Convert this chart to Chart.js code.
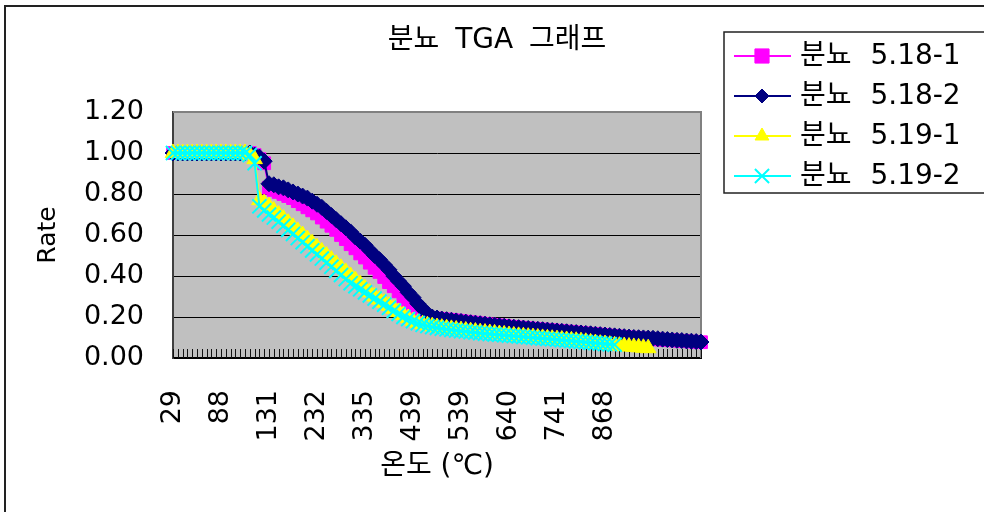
<!DOCTYPE html>
<html><head><meta charset="utf-8">
<script src="https://cdn.jsdelivr.net/npm/chart.js@4/dist/chart.umd.min.js"></script>
<style>html,body{margin:0;padding:0;background:#fff}#wrap{width:984px;height:512px;position:relative}</style>
</head><body><div id="wrap"><canvas id="c" width="984" height="512"></canvas></div>
<script>
const chartTitle = '분뇨 TGA 그래프';
const xTitle = '온도 (℃)';
const yTitle = 'Rate';
const seriesNames = ['분뇨 5.18-1', '분뇨 5.18-2', '분뇨 5.19-1', '분뇨 5.19-2'];
const tickLabels = ['29', '88', '131', '232', '335', '439', '539', '640', '741', '868'];
const yTicks = [0, 0.2, 0.4, 0.6, 0.8, 1.0, 1.2];

const s181 = [1,1,1,1,1,1,1,1,1,1,1,1,1,1,1,1,1,0.99,0.97,0.95,
  0.83,0.82,0.81,0.80,0.79,0.78,0.765,0.75,0.735,0.72,
  0.705,0.685,0.665,0.645,0.625,0.60,0.58,0.555,0.535,0.51,
  0.49,0.465,0.44,0.42,0.395,0.37,0.35,0.325,0.30,0.28,
  0.255,0.235,0.215,0.20,0.195,0.193,0.19,0.188,0.186,0.183,
  0.18,0.177,0.174,0.172,0.169,0.166,0.164,0.161,0.159,0.156,
  0.153,0.151,0.149,0.147,0.145,0.143,0.141,0.139,0.137,0.135,
  0.133,0.131,0.129,0.127,0.125,0.122,0.12,0.118,0.116,0.114,
  0.112,0.109,0.107,0.105,0.103,0.101,0.099,0.097,0.095,0.094,
  0.092,0.091,0.089,0.088,0.086,0.085,0.083,0.082,0.08,0.079,0.077];
const s182 = [1,1,1,1,1,1,1,1,1,1,1,1,1,1,1,1,1,0.99,0.98,0.96,
  0.85,0.845,0.835,0.83,0.82,0.81,0.80,0.79,0.78,0.765,
  0.75,0.735,0.715,0.695,0.675,0.655,0.635,0.615,0.59,0.57,
  0.55,0.525,0.50,0.48,0.455,0.43,0.40,0.375,0.35,0.32,
  0.295,0.265,0.24,0.215,0.20,0.195,0.19,0.187,0.184,0.181,
  0.178,0.175,0.172,0.17,0.167,0.165,0.162,0.16,0.157,0.155,
  0.152,0.15,0.148,0.146,0.144,0.142,0.14,0.138,0.136,0.134,
  0.132,0.13,0.128,0.126,0.124,0.122,0.12,0.118,0.116,0.114,
  0.112,0.11,0.108,0.106,0.104,0.102,0.1,0.099,0.098,0.097,
  0.096,0.094,0.092,0.09,0.088,0.086,0.085,0.083,0.082,0.08,0.078];
const s191 = [1,1,1,1,1,1,1,1,1,1,1,1,1,1,1,1,0.99,0.97,0.77,0.755,
  0.74,0.72,0.70,0.68,0.66,0.64,0.62,0.60,0.58,0.56,
  0.54,0.52,0.50,0.48,0.46,0.44,0.42,0.40,0.38,0.36,
  0.34,0.32,0.30,0.285,0.27,0.255,0.24,0.225,0.21,0.195,
  0.18,0.172,0.165,0.16,0.155,0.151,0.148,0.145,0.142,0.139,
  0.136,0.134,0.131,0.129,0.126,0.124,0.122,0.12,0.117,0.115,
  0.112,0.11,0.108,0.106,0.104,0.102,0.1,0.098,0.096,0.094,
  0.092,0.09,0.088,0.086,0.084,0.082,0.079,0.076,0.073,0.07,
  0.068,0.065,0.062,0.06,0.058,0.056,0.054,0.052,0.05,0.048];
const s192 = [1,1,1,1,1,1,1,1,1,1,1,1,1,1,1,1,0.99,0.95,0.74,0.72,
  0.70,0.685,0.665,0.645,0.625,0.605,0.585,0.565,0.545,0.525,
  0.505,0.485,0.465,0.445,0.425,0.405,0.385,0.365,0.35,0.335,
  0.32,0.305,0.29,0.275,0.26,0.245,0.23,0.215,0.20,0.19,
  0.18,0.17,0.162,0.156,0.151,0.147,0.143,0.14,0.137,0.134,
  0.131,0.129,0.126,0.124,0.121,0.119,0.117,0.115,0.113,0.111,
  0.109,0.107,0.105,0.103,0.101,0.099,0.097,0.095,0.093,0.091,
  0.089,0.087,0.085,0.083,0.081,0.079,0.077,0.075,0.073,0.071,
  0.069,0.067,0.065];

const seriesData = [s181, s182, s191, s192];
const colors = ['#FF00FF', '#000080', '#FFFF00', '#00FFFF'];
const pstyles = ['rect', 'rectRot', 'triangle', 'crossRot'];
const radii = [9, 8, 9, 10];
const legendRadii = [10, 7, 8, 10];
const FONT = '"DejaVu Sans", "Noto Sans CJK KR", sans-serif';

const categories = s181.map((_, i) => (i % 10 === 0 && tickLabels[i / 10] !== undefined) ? tickLabels[i / 10] : '');

function drawMarker(ctx, style, x, y, r, color) {
  ctx.save();
  ctx.fillStyle = color; ctx.strokeStyle = color; ctx.lineWidth = style === 'crossRot' ? 2 : 1;
  ctx.beginPath();
  if (style === 'rect') { const s = r * Math.SQRT1_2; ctx.rect(x - s, y - s, 2 * s, 2 * s); ctx.fill(); ctx.stroke(); }
  else if (style === 'rectRot') { ctx.moveTo(x, y - r); ctx.lineTo(x + r, y); ctx.lineTo(x, y + r); ctx.lineTo(x - r, y); ctx.closePath(); ctx.fill(); ctx.stroke(); }
  else if (style === 'triangle') { ctx.moveTo(x, y - r); ctx.lineTo(x + r * 0.866, y + r * 0.5); ctx.lineTo(x - r * 0.866, y + r * 0.5); ctx.closePath(); ctx.fill(); ctx.stroke(); }
  else { const s = r * Math.SQRT1_2; ctx.moveTo(x - s, y - s); ctx.lineTo(x + s, y + s); ctx.moveTo(x + s, y - s); ctx.lineTo(x - s, y + s); ctx.stroke(); }
  ctx.restore();
}

const decor = {
  id: 'decor',
  beforeDraw(chart) {
    const ctx = chart.ctx, a = chart.chartArea;
    ctx.save();
    ctx.fillStyle = '#fff'; ctx.fillRect(0, 0, chart.width, chart.height);
    ctx.strokeStyle = '#222'; ctx.lineWidth = 2;
    ctx.strokeRect(5, 6, 1100, 1100);
    ctx.fillStyle = '#C0C0C0';
    ctx.fillRect(a.left, a.top, a.right - a.left, a.bottom - a.top);
    ctx.restore();
  },
  beforeDatasetsDraw(chart) {
    const ctx = chart.ctx, a = chart.chartArea, xs = chart.scales.x;
    ctx.save();
    ctx.strokeStyle = '#808080'; ctx.lineWidth = 2;
    ctx.beginPath(); ctx.moveTo(a.left, a.top); ctx.lineTo(a.right, a.top); ctx.lineTo(a.right, a.bottom); ctx.stroke();
    ctx.strokeStyle = '#111'; ctx.lineWidth = 1;
    ctx.beginPath();
    for (let i = 0; i < categories.length; i++) {
      const px = Math.round(xs.getPixelForValue(i)) + 0.5;
      ctx.moveTo(px, a.bottom - 9); ctx.lineTo(px, a.bottom);
    }
    ctx.stroke();
    ctx.restore();
  },
  afterDraw(chart) {
    const ctx = chart.ctx;
    ctx.save();
    ctx.fillStyle = '#000';
    ctx.font = '28px ' + FONT;
    ctx.textAlign = 'center'; ctx.textBaseline = 'middle';
    if ('wordSpacing' in ctx) ctx.wordSpacing = '7px';
    ctx.fillText(chartTitle, 497, 41);
    // legend
    ctx.strokeStyle = '#222'; ctx.lineWidth = 1.5;
    ctx.strokeRect(724, 32, 300, 161);
    ctx.font = '28px ' + FONT;
    if ('wordSpacing' in ctx) ctx.wordSpacing = '10px';
    ctx.textAlign = 'left';
    const ys = [56, 96, 136, 176];
    seriesNames.forEach((n, k) => {
      const y = ys[k];
      ctx.strokeStyle = colors[k]; ctx.lineWidth = 2;
      ctx.beginPath(); ctx.moveTo(734, y); ctx.lineTo(791, y); ctx.stroke();
      drawMarker(ctx, pstyles[k], 762, y, legendRadii[k], colors[k]);
      ctx.fillStyle = '#000';
      ctx.fillText(n, 800, y + 1);
    });
    ctx.restore();
  }
};

const datasets = seriesNames.map((n, k) => ({
  label: n,
  data: seriesData[k],
  borderColor: colors[k],
  backgroundColor: colors[k],
  borderWidth: 2,
  pointStyle: pstyles[k],
  pointRadius: radii[k],
  pointBorderWidth: k === 3 ? 2 : 1,
  pointBorderColor: colors[k],
  pointBackgroundColor: colors[k],
  tension: 0,
  clip: false,
  order: 4 - k
}));

new Chart(document.getElementById('c'), {
  type: 'line',
  data: { labels: categories, datasets },
  options: {
    responsive: false, animation: false, devicePixelRatio: 1,
    layout: { padding: { left: 0, right: 283, top: 112, bottom: 0 } },
    plugins: { legend: { display: false }, title: { display: false }, tooltip: { enabled: false } },
    scales: {
      x: {
        type: 'category', offset: false,
        grid: { display: false, drawTicks: false },
        border: { display: true, color: '#000', width: 2 },
        ticks: { autoSkip: false, minRotation: 90, maxRotation: 90, padding: 32, color: '#000', font: { family: FONT, size: 27 } },
        title: { display: true, text: xTitle, color: '#000', font: { family: FONT, size: 28 }, padding: { top: 0, bottom: 28 } },
        afterFit: s => { s.height = 154; }
      },
      y: {
        min: 0, max: 1.2,
        afterBuildTicks: s => { s.ticks = yTicks.map(v => ({ value: v })); },
        grid: { drawTicks: false, color: c => (c.tick && Math.abs(c.tick.value - 1.2) < 1e-6) ? 'rgba(0,0,0,0)' : '#000', lineWidth: 1 },
        border: { display: true, color: '#404040', width: 2 },
        ticks: { padding: 29, color: '#000', font: { family: FONT, size: 27 }, callback: v => Number(v).toFixed(2) },
        title: { display: true, text: yTitle, color: '#000', font: { family: FONT, size: 25 }, padding: { top: 33, bottom: 0 } },
        afterFit: s => { s.width = 173; }
      }
    }
  },
  plugins: [decor]
});
</script></body></html>
